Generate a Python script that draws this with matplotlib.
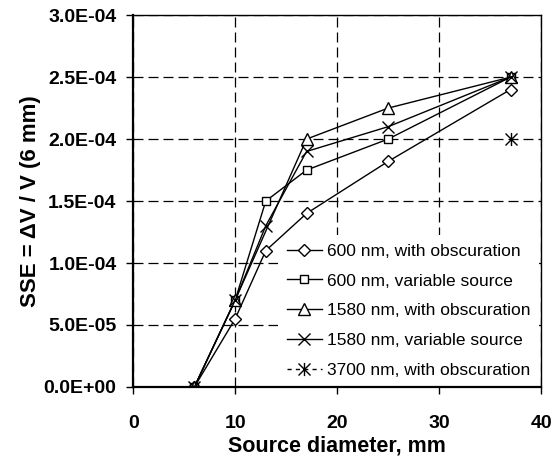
import matplotlib
matplotlib.use("Agg")
import matplotlib.pyplot as plt
import numpy as np
from matplotlib.path import Path

plt.rcParams['font.family'] = ['Liberation Sans', 'DejaVu Sans']

# Source diameters (mm)
diam = [6, 10, 13, 17, 25, 37]
diam_1580_obsc = [6, 10, 17, 25, 37]
diam_3700 = [37]

# SSE values
sse_600_obsc = [0.0, 5.5e-5, 1.1e-4, 1.4e-4, 1.82e-4, 2.4e-4]
sse_600_var = [0.0, 7.0e-5, 1.5e-4, 1.75e-4, 2.0e-4, 2.5e-4]
sse_1580_obsc = [0.0, 7.0e-5, 2.0e-4, 2.25e-4, 2.5e-4]
sse_1580_var = [0.0, 7.0e-5, 1.3e-4, 1.9e-4, 2.1e-4, 2.5e-4]
sse_3700_obsc = [2.0e-4]

labels = ["600 nm, with obscuration", "600 nm, variable source",
          "1580 nm, with obscuration", "1580 nm, variable source",
          "3700 nm, with obscuration"]

xticks = [0, 10, 20, 30, 40]
yticks = [0, 5e-5, 1e-4, 1.5e-4, 2e-4, 2.5e-4, 3e-4]
ytick_labels = ["0.0E+00", "5.0E-05", "1.0E-04", "1.5E-04", "2.0E-04", "2.5E-04", "3.0E-04"]

# asterisk marker: an x with a vertical stroke
asterisk = Path([(-1, -1), (1, 1), (-1, 1), (1, -1), (0, -1.1), (0, 1.1)],
                [Path.MOVETO, Path.LINETO, Path.MOVETO, Path.LINETO, Path.MOVETO, Path.LINETO])

fig = plt.figure(figsize=(5.55, 4.59), dpi=100)
ax = fig.add_axes([0.24, 0.157, 0.735, 0.81])

common = dict(color='black', lw=1.0, mfc='white', mec='black', mew=1.0)
ax.plot(diam, sse_600_obsc, marker='D', ms=6.5, label=labels[0], **common)
ax.plot(diam, sse_600_var, marker='s', ms=6, label=labels[1], **common)
ax.plot(diam_1580_obsc, sse_1580_obsc, marker='^', ms=8, label=labels[2], **common)
ax.plot(diam, sse_1580_var, marker='x', ms=8.5, label=labels[3], **common)
ax.plot(diam_3700, sse_3700_obsc, marker=asterisk, ms=9.5, ls=(0, (3, 3)),
        label=labels[4], **common)

ax.set_xlim(0, 40)
ax.set_ylim(0, 3e-4)
ax.set_xticks(xticks)
ax.set_yticks(yticks)
ax.set_yticklabels(ytick_labels)
ax.tick_params(direction='out', length=5, width=1, labelsize=14)
ax.tick_params(axis='x', pad=15)
ax.tick_params(axis='y', pad=7)
for lab in ax.get_xticklabels() + ax.get_yticklabels():
    lab.set_fontweight('bold')

ax.grid(True, color='black', lw=0.9, ls=(0, (8, 4)))
ax.set_axisbelow(True)
for side in ['left', 'bottom']:
    ax.spines[side].set_linewidth(1.6)
for side in ['top', 'right']:
    ax.spines[side].set_linewidth(1.0)

ax.set_xlabel("Source diameter, mm", fontsize=15.5, fontweight='bold', labelpad=3)
ax.set_ylabel("SSE = \u0394V / V (6 mm)", fontsize=16, fontweight='bold', labelpad=2)

leg = ax.legend(loc='lower right', bbox_to_anchor=(0.995, 0.0), frameon=True,
                fontsize=12.5, handlelength=2.0, handletextpad=0.3, labelspacing=0.85,
                borderaxespad=0.0, borderpad=0.5, fancybox=False)
leg.get_frame().set_edgecolor('white')
leg.get_frame().set_linewidth(0)
leg.get_frame().set_facecolor('white')
leg.get_frame().set_alpha(1.0)
# keep the legend box over the grid but beneath the data lines and spines
leg.set_zorder(1.5)

fig.savefig("out.png", dpi=100, facecolor='white')
